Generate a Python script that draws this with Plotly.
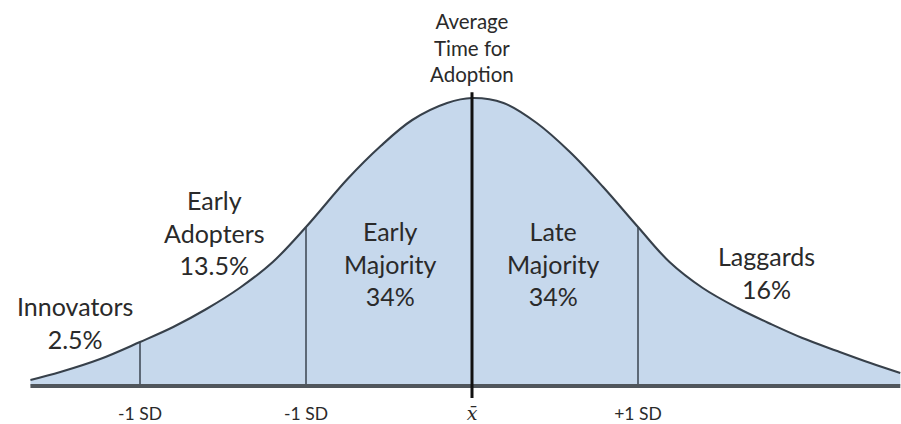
import numpy as np
import plotly.graph_objects as go

# Bell curve: x in standard deviations from the mean, y = relative height
curve_x = [-2.66, -2.48, -2.24, -2.00, -1.80, -1.60, -1.40, -1.20, -1.00, -0.75, -0.55, -0.36,
           -0.15, 0.00, 0.19, 0.39, 0.59, 0.79, 1.00, 1.19, 1.39, 1.60, 1.80, 1.99, 2.20,
           2.40, 2.58]
curve_y = [6, 14, 27, 44, 59, 77, 98, 124, 159, 207, 240, 266,
           283, 288, 283, 263, 234, 199, 159, 124, 98, 78, 62, 48, 35,
           23, 13]

# Segment boundaries (in SD) and the mean
boundaries = [-2.0, -1.0, 1.0]
mean_x = 0.0

# Axis tick labels (as printed in the original)
tick_vals = [-2.0, -1.0, 0.0, 1.0]
tick_text = ["-1 SD", "-1 SD",
             "<span style=\"font-family:'DejaVu Serif';font-size:19px\"><i>x\u0304</i></span>",
             "+1 SD"]

# Category labels
segment_labels = ["Innovators<br>2.5%", "Early<br>Adopters<br>13.5%", "Early<br>Majority<br>34%",
                  "Late<br>Majority<br>34%", "Laggards<br>16%"]
mean_label = "Average<br>Time for<br>Adoption"

FILL = "#c6d8ec"
LINE = "#37404a"
TEXT = "#2a2a2a"
FONT = "Lato"

# pixel -> data helpers for label placement (plot spans full width, baseline at y=0)
def px_x(px):
    return (px - 472) / 166.0

def px_y(py):
    return 386 - py

fig = go.Figure()
fig.add_trace(go.Scatter(
    x=curve_x, y=curve_y, mode="lines", line=dict(color=LINE, width=2.1, shape="spline", smoothing=1.0),
    fill="tozeroy", fillcolor=FILL, hoverinfo="skip", showlegend=False))

shapes = []
peak = max(curve_y)
# divider lines from baseline up to the curve
for b in boundaries:
    h = float(np.interp(b, curve_x, curve_y))
    shapes.append(dict(type="line", x0=b, x1=b, y0=0, y1=h, xref="x", yref="y",
                       line=dict(color="#3a4550", width=1.5)))
# baseline
shapes.append(dict(type="line", x0=curve_x[0], x1=curve_x[-1], y0=0, y1=0, xref="x", yref="y",
                   line=dict(color="#50565c", width=4)))
# mean line
shapes.append(dict(type="line", x0=mean_x, x1=mean_x, y0=-peak * 0.042, y1=peak * 1.02,
                   xref="x", yref="y", line=dict(color="#111111", width=3)))

label_pos = [(75, 322), (214, 232), (390, 263), (553, 263), (766, 272)]
annotations = []
for txt, (px, py) in zip(segment_labels, label_pos):
    annotations.append(dict(x=px_x(px), y=px_y(py), text=txt, showarrow=False, xref="x", yref="y",
                            xanchor="center", yanchor="middle", align="center",
                            font=dict(family=FONT, size=25, color=TEXT)))
annotations.append(dict(x=mean_x, y=px_y(47), text=mean_label, showarrow=False, xref="x", yref="y",
                        xanchor="center", yanchor="middle", align="center",
                        font=dict(family=FONT, size=20.5, color=TEXT)))

fig.update_layout(
    width=901, height=424,
    margin=dict(l=0, r=0, t=0, b=24, autoexpand=False),
    paper_bgcolor="white", plot_bgcolor="white",
    shapes=shapes, annotations=annotations,
    xaxis=dict(range=[px_x(0), px_x(901)], showgrid=False, zeroline=False, showline=False,
               tickvals=tick_vals, ticktext=tick_text, ticks="", ticklabelstandoff=1,
               automargin=False,
               tickfont=dict(family=FONT, size=17.5, color=TEXT), fixedrange=True),
    yaxis=dict(range=[px_y(400), px_y(0)], showgrid=False, zeroline=False, showline=False,
               showticklabels=False, fixedrange=True, automargin=False),
    hovermode=False,
)

fig.write_html("out.html", config={"displayModeBar": False},
               post_script="document.body.style.margin='0';document.body.style.overflow='hidden';")
